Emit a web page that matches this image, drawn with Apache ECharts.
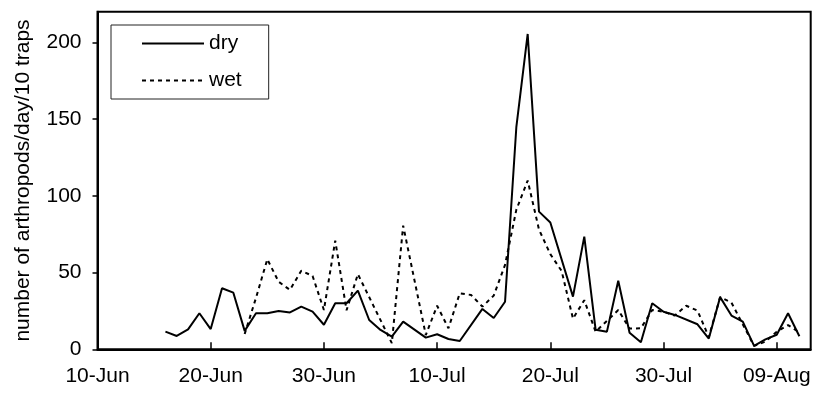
<!DOCTYPE html>
<html><head><meta charset="utf-8">
<script src="https://cdn.jsdelivr.net/npm/echarts@6/dist/echarts.min.js"></script>
<style>html,body{margin:0;padding:0;background:#fff}#c{width:814px;height:395px}</style>
</head><body><div id="c"></div>
<script>
const categories = [
 '10-Jun','11-Jun','12-Jun','13-Jun','14-Jun','15-Jun','16-Jun','17-Jun','18-Jun','19-Jun',
 '20-Jun','21-Jun','22-Jun','23-Jun','24-Jun','25-Jun','26-Jun','27-Jun','28-Jun','29-Jun',
 '30-Jun','01-Jul','02-Jul','03-Jul','04-Jul','05-Jul','06-Jul','07-Jul','08-Jul','09-Jul',
 '10-Jul','11-Jul','12-Jul','13-Jul','14-Jul','15-Jul','16-Jul','17-Jul','18-Jul','19-Jul',
 '20-Jul','21-Jul','22-Jul','23-Jul','24-Jul','25-Jul','26-Jul','27-Jul','28-Jul','29-Jul',
 '30-Jul','31-Jul','01-Aug','02-Aug','03-Aug','04-Aug','05-Aug','06-Aug','07-Aug','08-Aug',
 '09-Aug','10-Aug','11-Aug','12-Aug'
];
const dry = [
 null,null,null,null,null,null,11.5,8.7,13,23.5,
 13.2,39.8,36.9,12,23.5,23.5,25,24,27.8,24.5,
 16,30,30,38.2,19.1,12.6,8.2,18,null,7.6,
 9.8,6.7,5.4,null,26.3,20.4,31,145,205.5,89.7,
 82.6,null,34.3,73.4,12.8,11.5,44.7,10.8,4.6,30,
 24.5,22.4,null,16.3,7,34,22,18,2.2,6.5,
 9.5,23.5,8.5,null
];
const wet = [
 null,null,null,null,null,null,null,null,null,null,
 null,null,null,10,33.5,58.7,44,38.7,51.2,47.8,
 25.6,70.8,25.4,49,null,null,4,80.6,null,9.3,
 28.4,13.7,36.5,35.4,27.8,35,55,91,110,78,
 62,51,20,32,11.5,null,25.6,13.5,13.7,25.6,
 24.5,22,28.4,25.2,8,34,30.4,null,2.2,5,
 11.5,15.8,11,null
];
const yTicks = [0, 50, 100, 150, 200];
const seriesNames = ['dry', 'wet'];

const FONT = 'Liberation Sans, Arial, sans-serif';
const FS = 21;
const chart = echarts.init(document.getElementById('c'), null, {renderer: 'canvas'});
chart.setOption({
  backgroundColor: '#fff',
  animation: false,
  textStyle: {fontFamily: FONT, color: '#000'},
  grid: {left: 97.5, right: 3.3, top: 11.7, bottom: 45.7, show: true,
         borderColor: '#000', borderWidth: 2, backgroundColor: 'transparent',
         outerBoundsMode: 'none'},
  legend: {
    data: seriesNames, orient: 'vertical', left: 111, top: 25,
    padding: [8, 27, 8, 30], itemWidth: 62, itemHeight: 20, itemGap: 16,
    backgroundColor: '#fff', borderColor: '#222', borderWidth: 1,
    textStyle: {fontSize: FS, color: '#000', fontFamily: FONT},
    itemStyle: {opacity: 0}
  },
  xAxis: {
    type: 'category', data: categories, boundaryGap: false,
    axisLine: {lineStyle: {color: '#000', width: 2}},
    axisTick: {inside: true, length: 7, interval: 9, lineStyle: {color: '#000', width: 1.5}},
    axisLabel: {interval: 9, fontSize: FS, color: '#000', margin: 16, fontFamily: FONT},
    splitLine: {show: false}
  },
  yAxis: {
    type: 'value', min: 0, max: 220, interval: 50,
    name: 'number of arthropods/day/10 traps', nameLocation: 'middle', nameGap: 64,
    nameTextStyle: {fontSize: FS, color: '#000', fontFamily: FONT},
    axisLine: {show: true, lineStyle: {color: '#000', width: 2}},
    axisTick: {show: true, length: 5, lineStyle: {color: '#000', width: 1.5}, customValues: yTicks},
    axisLabel: {fontSize: FS, color: '#000', margin: 16, fontFamily: FONT, customValues: yTicks},
    splitLine: {show: false}
  },
  series: [
    {name: seriesNames[0], type: 'line', data: dry, connectNulls: true, symbol: 'none',
     lineStyle: {color: '#000', width: 2}, itemStyle: {color: '#000'}},
    {name: seriesNames[1], type: 'line', data: wet, connectNulls: true, symbol: 'none',
     lineStyle: {color: '#000', width: 2, type: [4, 4]}, itemStyle: {color: '#000'}}
  ]
});
</script></body></html>
